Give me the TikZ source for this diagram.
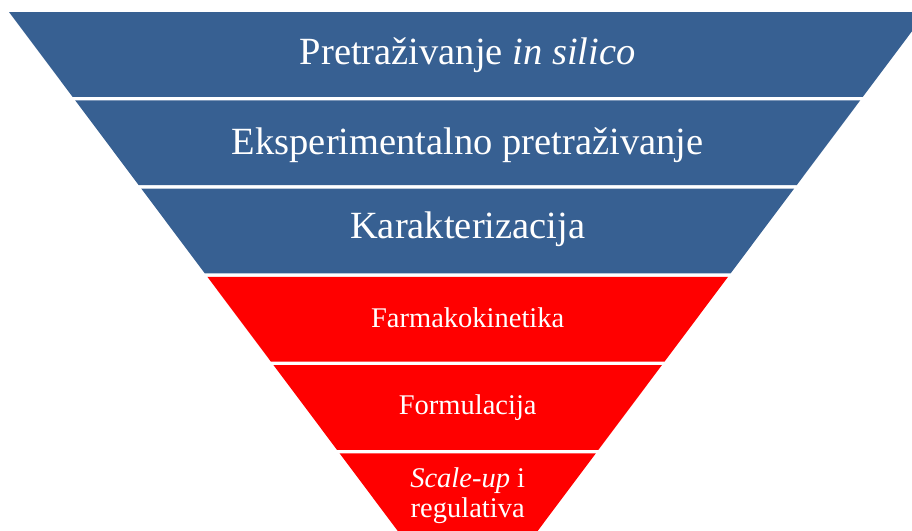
\documentclass[tikz,border=0pt]{standalone}
\usepackage{fontspec}
\setmainfont{Liberation Serif}
\definecolor{bandblue}{RGB}{55,96,146}
\definecolor{bandred}{RGB}{255,0,0}
\begin{document}
\begin{tikzpicture}[x=1pt,y=-1pt,
  bandtext/.style={text=white, anchor=base, inner sep=0pt},
  big/.style={font=\fontsize{38.5}{40}\selectfont},
  small/.style={font=\fontsize{28.5}{30}\selectfont}]
\useasboundingbox (0,0) rectangle (912,530);
\clip (0,0) rectangle (912,530);
\foreach \i/\col in {0/bandblue,1/bandblue,2/bandblue,3/bandred,4/bandred,5/bandred}{
  \pgfmathsetmacro\tp{12+88.27*\i}
  \pgfmathsetmacro\bt{\tp+84.8}
  \pgfmathsetmacro\lt{9+0.7491*(\tp-12)}
  \pgfmathsetmacro\lb{9+0.7491*(\bt-12)}
  \fill[\col] (\lt,\tp) -- (935.4-\lt,\tp) -- (935.4-\lb,\bt) -- (\lb,\bt) -- cycle;
}
\node[bandtext,big] (t1) at (467.7,64.3) {Pretraživanje \textit{in silico}};
\node[bandtext,big] (t2) at (467.7,154) {Eksperimentalno pretraživanje};
\node[bandtext,big] (t3) at (467.7,238.3) {Karakterizacija};
\node[bandtext,small] (t4) at (467.7,327.3) {Farmakokinetika};
\node[bandtext,small] (t5) at (467.7,414.3) {Formulacija};
\node[bandtext,small] (t6a) at (467.7,487.3) {\textit{Scale-up} i};
\node[bandtext,small] (t6b) at (467.7,517.3) {regulativa};
\end{tikzpicture}
\end{document}
